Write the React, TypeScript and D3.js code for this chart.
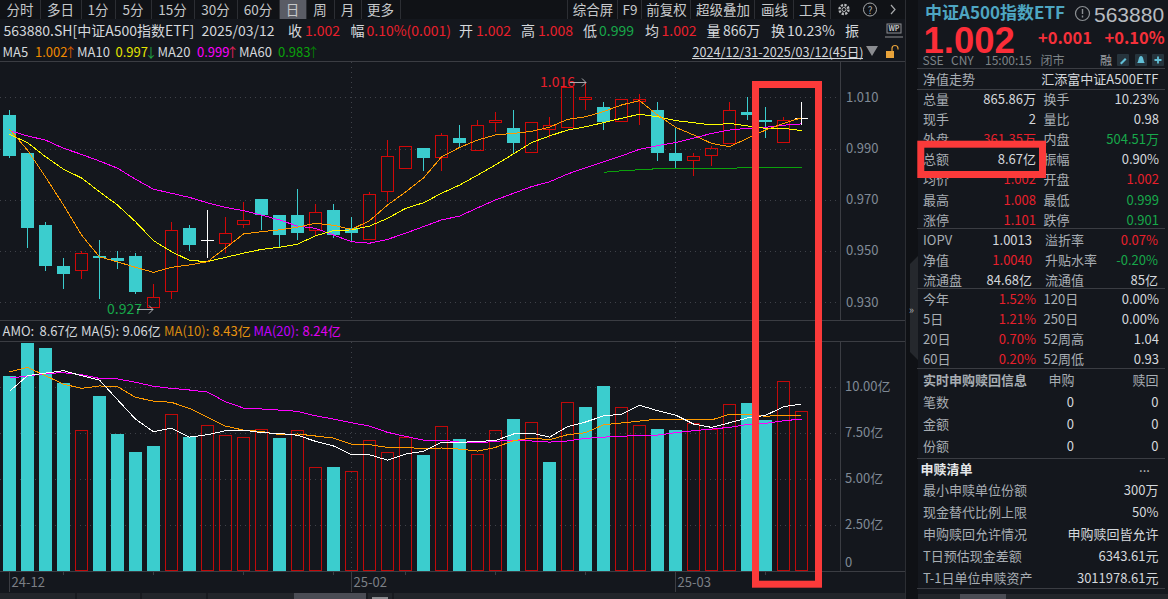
import * as d3 from 'd3';

// candles
const openPrices = [1.0031, 0.9882, 0.9601, 0.9441, 0.9424, 0.948, 0.9472, 0.948, 0.9282, 0.9342, 0.9589, 0.9541, 0.9532, 0.9604, 0.9703, 0.964, 0.964, 0.9583, 0.966, 0.9589, 0.9545, 0.9733, 0.9823, 0.9901, 0.9866, 0.9941, 0.9893, 1.0005, 0.998, 0.9885, 0.9975, 0.9983, 1.0095, 1.0062, 1.0006, 1.0084, 1.005, 0.9882, 0.9854, 0.9873, 0.9923, 1.0043, 1.0011, 0.9924, 1.002];
const closePrices = [0.9872, 0.9591, 0.9442, 0.9411, 0.9491, 0.9472, 0.9461, 0.9341, 0.9319, 0.958, 0.9524, 0.9541, 0.9569, 0.962, 0.9641, 0.9563, 0.9571, 0.9651, 0.9563, 0.9571, 0.9721, 0.987, 0.9909, 0.9864, 0.9952, 0.9923, 0.9991, 1.0011, 0.9923, 1.0002, 0.9991, 1.0139, 1.01, 1.0005, 1.0092, 1.0092, 0.9884, 0.9852, 0.987, 0.9901, 1.0049, 1.0031, 1.0004, 1.001, 1.002];
const highPrices = [1.005, 0.9882, 0.9613, 0.9472, 0.95, 0.9543, 0.95, 0.9492, 0.9371, 0.9613, 0.9601, 0.966, 0.9632, 0.9691, 0.9703, 0.964, 0.9742, 0.9683, 0.9683, 0.9632, 0.9729, 0.9933, 0.9909, 0.9901, 0.9959, 0.9992, 1.0011, 1.0043, 1.005, 1.0002, 1.0024, 1.0139, 1.016, 1.0082, 1.0092, 1.0113, 1.0082, 0.9983, 0.9881, 0.991, 1.0082, 1.01, 1.0062, 1.0023, 1.0082];
const lowPrices = [0.9864, 0.9512, 0.9423, 0.9351, 0.9391, 0.9313, 0.9429, 0.9333, 0.9282, 0.9313, 0.95, 0.9473, 0.9493, 0.9591, 0.9582, 0.9515, 0.9543, 0.9558, 0.9552, 0.9535, 0.9545, 0.9692, 0.9823, 0.9813, 0.9813, 0.9902, 0.9893, 0.9966, 0.9884, 0.9885, 0.9941, 0.9983, 1.005, 0.9972, 1.0006, 0.9992, 0.9852, 0.9823, 0.9793, 0.9832, 0.9923, 1.0011, 0.9941, 0.9924, 0.9993];

const ma5 = [0.9975, 0.9894, 0.9789, 0.9679, 0.9562, 0.9477, 0.9457, 0.9436, 0.9416, 0.9436, 0.9445, 0.9458, 0.9511, 0.9566, 0.9575, 0.9582, 0.9593, 0.9608, 0.96, 0.9584, 0.9618, 0.9679, 0.973, 0.9785, 0.9867, 0.9904, 0.9933, 0.9953, 0.9959, 0.9967, 0.9983, 1.0014, 1.0024, 1.0044, 1.007, 1.0087, 1.0031, 0.9983, 0.9953, 0.992, 0.9907, 0.994, 0.9972, 0.9998, 1.002];
const ma10 = [0.9955, 0.9923, 0.9868, 0.9819, 0.9785, 0.9731, 0.9679, 0.9614, 0.954, 0.9497, 0.9463, 0.9458, 0.9475, 0.9491, 0.9506, 0.9514, 0.9526, 0.9559, 0.9579, 0.9582, 0.9597, 0.9627, 0.9666, 0.9688, 0.9725, 0.9757, 0.9796, 0.9836, 0.9879, 0.9923, 0.9949, 0.9972, 0.9985, 1.0001, 1.0018, 1.0034, 1.0024, 1.0009, 1.0001, 0.9992, 0.9998, 0.9988, 0.9979, 0.9979, 0.997];
const ma20 = [0.997, 0.9949, 0.9933, 0.9901, 0.9877, 0.9851, 0.9823, 0.978, 0.9741, 0.9725, 0.9709, 0.9688, 0.967, 0.9657, 0.964, 0.9621, 0.9597, 0.9588, 0.9562, 0.9536, 0.953, 0.9545, 0.9569, 0.9595, 0.9621, 0.9636, 0.9668, 0.9699, 0.9725, 0.9751, 0.977, 0.98, 0.9825, 0.9848, 0.9871, 0.9897, 0.9911, 0.9923, 0.994, 0.9959, 0.9972, 0.9979, 0.9983, 0.9991, 0.9996];
const ma60Start = 33;
const ma60 = [0.9807, 0.9813, 0.9817, 0.9821, 0.9821, 0.9821, 0.9821, 0.9823, 0.9825, 0.9825, 0.9825, 0.9825];

// turnover in 亿
const amounts = [10.6, 12.39, 12.12, 10.22, 7.66, 9.51, 7.45, 6.47, 6.79, 8.51, 7.28, 7.92, 7.37, 7.26, 7.7, 7.23, 7.64, 5.63, 5.65, 5.42, 7.1, 6.45, 7.26, 6.3, 7.86, 7.17, 6.34, 7.64, 8.26, 8.08, 5.92, 9.17, 8.91, 10.05, 8.89, 7.92, 7.72, 7.66, 8.03, 7.7, 9.06, 9.13, 8.21, 10.31, 8.67];
const amountUp = [0, 0, 0, 0, 1, 0, 0, 0, 0, 1, 0, 1, 1, 1, 1, 0, 1, 1, 0, 1, 1, 1, 1, 0, 1, 0, 1, 1, 0, 1, 0, 1, 0, 0, 1, 1, 0, 0, 1, 1, 1, 0, 0, 1, 1];
const amoMa5 = [9.75, 10.6, 10.74, 10.87, 10.6, 10.36, 9.29, 8.24, 7.55, 7.75, 7.26, 7.39, 7.61, 7.64, 7.5, 7.46, 7.36, 7.03, 6.78, 6.3, 6.3, 6.01, 6.34, 6.49, 6.97, 6.97, 7.03, 7.07, 7.43, 7.48, 7.26, 7.83, 8.08, 8.41, 8.51, 8.99, 8.7, 8.46, 7.97, 7.79, 8.04, 8.3, 8.44, 8.91, 9.06];
const amoMa10 = [10.8, 11.05, 10.6, 10.14, 9.91, 10.04, 10, 9.42, 9.22, 9.15, 8.82, 8.33, 7.86, 7.64, 7.57, 7.39, 7.43, 7.32, 7.21, 6.88, 6.85, 6.7, 6.7, 6.63, 6.67, 6.61, 6.5, 6.7, 7.07, 7.21, 7.12, 7.39, 7.5, 7.93, 8.03, 8.13, 8.24, 8.24, 8.22, 8.19, 8.51, 8.5, 8.39, 8.46, 8.43];
const amoMa20 = [10.47, 10.58, 10.72, 10.76, 10.65, 10.45, 10.42, 10.24, 10.02, 9.91, 9.82, 9.71, 9.18, 8.84, 8.79, 8.73, 8.66, 8.42, 8.24, 8.04, 7.86, 7.52, 7.3, 7.1, 7.1, 6.99, 6.94, 7.03, 7.1, 7.05, 6.99, 7.05, 7.19, 7.26, 7.3, 7.37, 7.37, 7.5, 7.61, 7.7, 7.79, 7.95, 8.01, 8.15, 8.24];

const priceTicks = [1.01, 0.99, 0.97, 0.95, 0.93];
const amountTicks = [10, 7.5, 5, 2.5];
const shortTickBars = [3, 8, 13, 18, 22, 27, 32, 42];
const monthLabels = [
  { bar: 0, label: '24-12' },
  { bar: 19, label: '25-02' },
  { bar: 37, label: '25-03' },
];

const leftTabs = ['分时', '多日', '1分', '5分', '15分', '30分', '60分', '日', '周', '月', '更多'];
const leftTabEdges = [0, 40, 81, 115, 151, 194, 237, 279, 306, 334, 361, 400];
const rightTabs = ['综合屏', 'F9', '前复权', '超级叠加', '画线', '工具'];
const rightTabEdges = [568, 618, 642, 691, 755, 794, 831];

const quoteRows = [
  ['总量', '865.86万', '', '换手', '10.23%', ''],
  ['现手', '2', '', '量比', '0.98', ''],
  ['外盘', '361.35万', 'r', '内盘', '504.51万', 'g'],
  ['总额', '8.67亿', '', '振幅', '0.90%', ''],
  ['均价', '1.002', 'r', '开盘', '1.002', 'r'],
  ['最高', '1.008', 'r', '最低', '0.999', 'g'],
  ['涨停', '1.101', 'r', '跌停', '0.901', 'g'],
];
const navRows = [
  ['IOPV', '1.0013', '', '溢折率', '0.07%', 'r'],
  ['净值', '1.0040', 'r', '升贴水率', '-0.20%', 'g'],
  ['流通盘', '84.68亿', '', '流通值', '85亿', ''],
];
const returnRows = [
  ['今年', '1.52%', 'r', '120日', '0.00%', ''],
  ['5日', '1.21%', 'r', '250日', '0.00%', ''],
  ['20日', '0.70%', 'r', '52周高', '1.04', ''],
  ['60日', '0.20%', 'r', '52周低', '0.93', ''],
];
const creationRows = [
  ['笔数', '0', '0'],
  ['金额', '0', '0'],
  ['份额', '0', '0'],
];
const basketRows = [
  ['最小申赎单位份额', '300万'],
  ['现金替代比例上限', '50%'],
  ['申购赎回允许情况', '申购赎回皆允许'],
  ['T日预估现金差额', '6343.61元'],
  ['T-1日单位申赎资产', '3011978.61元'],
];

const BG = '#14171d';
const RED = '#e8202c';
const GREEN = '#17a84a';
const CYAN = '#3bcdce';
const CANDLE_RED = '#d00808';
const BAR_RED = '#c00a0a';
const LINE = '#3b3d43';
const GRID = '#3f4249';
const LABEL = '#a7adb3';
const VALUE = '#d4d8dc';
const AXIS_TEXT = '#808a96';
const FONT = '"Noto Sans CJK SC", "Noto Sans", sans-serif';

const xScale = d3.scaleLinear().domain([0, 44]).range([9.5, 801.5]);
const yPrice = d3.scaleLinear().domain([0.93, 1.01]).range([302.1, 97.3]);
const yAmount = d3.scaleLinear().domain([0, 10]).range([570.7, 386.7]);

const crisp = (v: number) => Math.round(v) + 0.5;

// central baseline sits about a pixel low with the CJK font, hence the -1
function T({ x, y, s = 13, fill = VALUE, a = 'start', w, children }: any) {
  return (
    <text x={x} y={y - 1} fontSize={s} fill={fill} textAnchor={a} fontWeight={w} dominantBaseline="central" fontFamily={FONT}>
      {children}
    </text>
  );
}

function Arrow({ fill, children }: any) {
  return <tspan dx={-3.5} fill={fill}>{children}</tspan>;
}

function Series({ values, y, color, start = 0 }: { values: number[]; y: any; color: string; start?: number }) {
  const line = d3.line<number>().x((_, i) => xScale(i + start)).y(d => y(d));
  return <path d={line(values) || ''} fill="none" stroke={color} strokeWidth={1} shapeRendering="crispEdges" />;
}

// 1px frame as a filled ring so it lands exactly on the pixels
function Frame({ cx, top, bottom, color }: { cx: number; top: number; bottom: number; color: string }) {
  const x = cx - 6.5;
  const w = 13;
  const h = Math.max(bottom - top + 1, 2);
  const d = `M${x} ${top}h${w}v${h}h${-w}zM${x + 1} ${top + 1}h${w - 2}v${Math.max(h - 2, 0)}h${2 - w}z`;
  return <path d={d} fill={color} fillRule="evenodd" shapeRendering="crispEdges" />;
}

function Candle({ i }: { i: number }) {
  const cx = xScale(i);
  const top = Math.round(yPrice(Math.max(openPrices[i], closePrices[i])));
  const bottom = Math.round(yPrice(Math.min(openPrices[i], closePrices[i])));
  const hi = Math.round(yPrice(highPrices[i]));
  const lo = Math.round(yPrice(lowPrices[i]));
  const up = closePrices[i] > openPrices[i];
  const flat = closePrices[i] === openPrices[i];
  const color = flat ? '#ffffff' : up ? CANDLE_RED : CYAN;
  return (
    <g shapeRendering="crispEdges">
      {hi < top && <line x1={cx} x2={cx} y1={hi} y2={top} stroke={color} />}
      {lo > bottom && <line x1={cx} x2={cx} y1={bottom} y2={lo} stroke={color} />}
      {flat && <line x1={cx - 6.5} x2={cx + 6.5} y1={top + 0.5} y2={top + 0.5} stroke={color} />}
      {!flat && up && <Frame cx={cx} top={top} bottom={bottom} color={color} />}
      {!flat && !up && <rect x={cx - 6.5} y={top} width={13} height={Math.max(bottom - top, 1)} fill={color} />}
    </g>
  );
}

function AmountBar({ i }: { i: number }) {
  const cx = xScale(i);
  const top = Math.round(yAmount(amounts[i]));
  if (amountUp[i]) return <Frame cx={cx} top={top} bottom={570} color={BAR_RED} />;
  return <rect x={cx - 6.5} y={top} width={13} height={571 - top} fill={CYAN} shapeRendering="crispEdges" />;
}

function ExtremeNote({ x, y, label, color }: { x: number; y: number; label: string; color: string }) {
  return (
    <g>
      <T x={x} y={y} s={14} fill={color}>{label}</T>
      <path d={`M${x + 30} ${y + 0.5}H${x + 46}M${x + 42} ${y - 3.5}L${x + 46} ${y + 0.5}L${x + 42} ${y + 4.5}`} fill="none" stroke="#b9bcc0" strokeWidth={0.9} />
    </g>
  );
}

const tone = (k: string) => (k === 'r' ? RED : k === 'g' ? GREEN : VALUE);

function QuoteRows({ rows, top, step, r1 = 1036, l2 = 1043.5, r2 = 1159 }: any) {
  return rows.map((r: string[], i: number) => (
    <g key={r[0]}>
      <T x={923} y={top + step * i} fill={LABEL}>{r[0]}</T>
      <T x={r1} y={top + step * i} fill={tone(r[2])} a="end">{r[1]}</T>
      <T x={l2} y={top + step * i} fill={LABEL}>{r[3]}</T>
      <T x={r2} y={top + step * i} fill={tone(r[5])} a="end">{r[4]}</T>
    </g>
  ));
}

function Hr({ y, x1 = 917, x2 = 1165 }: { y: number; x1?: number; x2?: number }) {
  return <line x1={x1} x2={x2} y1={y + 0.5} y2={y + 0.5} stroke={LINE} shapeRendering="crispEdges" />;
}

export default function App() {
  const bars = d3.range(amounts.length);
  return (
    <div style={{ position: 'fixed', left: 0, top: 0, width: 1168, height: 599, overflow: 'hidden' }}>
      <svg width={1168} height={599} style={{ display: 'block' }}>
        <rect width={1168} height={599} fill={BG} />
        <rect width={905} height={19} fill="#101216" />

        {/* toolbar */}
        <rect x={279} y={0} width={27} height={19} fill="#5a5c65" />
        {leftTabs.map((t, i) => (
          <T key={t} x={(leftTabEdges[i] + leftTabEdges[i + 1]) / 2} y={9.5} s={13.5} fill="#c6c8ca" a="middle">{t}</T>
        ))}
        {leftTabEdges.slice(1).map(x => <line key={x} x1={x + 0.5} x2={x + 0.5} y1={0} y2={19} stroke="#2c2e33" />)}
        {rightTabs.map((t, i) => (
          <T key={t} x={(rightTabEdges[i] + rightTabEdges[i + 1]) / 2} y={9.5} s={13.5} fill="#c6c8ca" a="middle">{t}</T>
        ))}
        {rightTabEdges.map(x => <line key={x} x1={x - 0.5} x2={x - 0.5} y1={0} y2={19} stroke="#2c2e33" />)}
        <circle cx={844} cy={9.5} r={4.5} fill="none" stroke="#b8babc" strokeWidth={2.4} strokeDasharray="2.2 1.3" />
        <circle cx={844} cy={9.5} r={2} fill="none" stroke="#b8babc" />
        <circle cx={870} cy={9.5} r={6.5} fill="none" stroke="#a8aaac" />
        <T x={870} y={10} s={10} fill="#a8aaac" a="middle">?</T>
        <path d="M891 5l4 4.5l-4 4.5" fill="none" stroke="#a8aaac" strokeWidth={1.2} />

        {/* quote line */}
        <T x={3.5} y={31} s={14}>563880.SH[中证A500指数ETF]</T>
        <T x={201.5} y={31} s={14}>2025/03/12</T>
        <T x={288} y={31} s={14}>收</T>
        <T x={305} y={31} s={14} fill={RED}>1.002</T>
        <T x={350.5} y={31} s={14}>幅</T>
        <T x={366.5} y={31} s={14} fill={RED}>0.10%(0.001)</T>
        <T x={459} y={31} s={14}>开</T>
        <T x={476} y={31} s={14} fill={RED}>1.002</T>
        <T x={521} y={31} s={14}>高</T>
        <T x={538} y={31} s={14} fill={RED}>1.008</T>
        <T x={583} y={31} s={14}>低</T>
        <T x={599} y={31} s={14} fill={GREEN}>0.999</T>
        <T x={645} y={31} s={14}>均</T>
        <T x={661.5} y={31} s={14} fill={RED}>1.002</T>
        <T x={706.5} y={31} s={14}>量</T>
        <T x={723} y={31} s={14}>866万</T>
        <T x={771} y={31} s={14}>换</T>
        <T x={787} y={31} s={14}>10.23%</T>
        <T x={845} y={31} s={14}>振</T>
        <rect x={887} y={24} width={14} height={9} fill="none" stroke="#8e9094" />
        <T x={894} y={29} s={7} fill="#c0c2c4" a="middle" w={700}>WP</T>
        <path d="M885 37h18" stroke="#8e9094" />

        {/* moving average line */}
        <T x={2.5} y={52}>MA5</T>
        <T x={35} y={52} fill="#f08a00">1.002<Arrow fill="#d05a00">↑</Arrow></T>
        <T x={77} y={52}>MA10</T>
        <T x={115.5} y={52} fill="#e6e600">0.997<Arrow fill="#20a040">↓</Arrow></T>
        <T x={157.5} y={52}>MA20</T>
        <T x={197} y={52} fill="#ff00ff">0.999<Arrow fill="#e0205a">↑</Arrow></T>
        <T x={239} y={52}>MA60</T>
        <T x={278} y={52} fill="#0ba20b">0.983<Arrow fill="#067a06">↑</Arrow></T>
        <T x={692.5} y={52} s={12.6}>2024/12/31-2025/03/12(45日)</T>
        <line x1={692} x2={863} y1={58.5} y2={58.5} stroke={VALUE} />
        <path d="M866 46h12l-6 10z" fill="#8a8c90" />
        <rect x={886} y={51} width={8} height={7} fill="#e8a33a" />
        <path d="M892 51v-2.5a3 3 0 0 1 6 0v1" fill="none" stroke="#e8a33a" strokeWidth={1.2} />

        {/* panel frames */}
        <g stroke={LINE} shapeRendering="crispEdges">
          <line x1={0} x2={905} y1={61.5} y2={61.5} />
          <line x1={0} x2={905} y1={320.5} y2={320.5} />
          <line x1={0} x2={905} y1={341.5} y2={341.5} />
          <line x1={0} x2={905} y1={571.5} y2={571.5} />
          <line x1={840.5} x2={840.5} y1={61} y2={320} />
          <line x1={840.5} x2={840.5} y1={342} y2={572} />
          <line x1={905.5} x2={905.5} y1={0} y2={599} stroke="#2c2e33" />
        </g>

        {/* grid */}
        <g stroke={GRID} strokeDasharray="1 4" shapeRendering="crispEdges">
          {priceTicks.map(t => <line key={t} x1={0} x2={840} y1={crisp(yPrice(t))} y2={crisp(yPrice(t))} />)}
          {amountTicks.map(t => <line key={t} x1={0} x2={840} y1={crisp(yAmount(t))} y2={crisp(yAmount(t))} />)}
          {monthLabels.slice(1).map(m => (
            <g key={m.label}>
              <line x1={xScale(m.bar)} x2={xScale(m.bar)} y1={62} y2={320} />
              <line x1={xScale(m.bar)} x2={xScale(m.bar)} y1={342} y2={571} />
            </g>
          ))}
        </g>

        {/* price panel */}
        {bars.map(i => <Candle key={i} i={i} />)}
        <Series values={ma20} y={yPrice} color="#ff00ff" />
        <Series values={ma10} y={yPrice} color="#ffff00" />
        <Series values={ma5} y={yPrice} color="#ff9a00" />
        <Series values={ma60} y={yPrice} color="#0ba20b" start={ma60Start} />
        <ExtremeNote x={540} y={82} label="1.016" color={RED} />
        <ExtremeNote x={107} y={309} label="0.927" color={GREEN} />
        {priceTicks.map(t => (
          <T key={t} x={846} y={yPrice(t)} fill={AXIS_TEXT}>{t.toFixed(3)}</T>
        ))}

        {/* turnover panel */}
        <T x={2.5} y={331}>AMO:</T>
        <T x={39.5} y={331}>8.67亿</T>
        <T x={81} y={331}>MA(5):</T>
        <T x={122.5} y={331}>9.06亿</T>
        <T x={164} y={331} fill="#d88a10">MA(10):</T>
        <T x={212.5} y={331} fill="#e89410">8.43亿</T>
        <T x={253.5} y={331} fill="#c000ff">MA(20):</T>
        <T x={302.5} y={331} fill="#e000f0">8.24亿</T>
        {bars.map(i => <AmountBar key={i} i={i} />)}
        <Series values={amoMa20} y={yAmount} color="#ff00ff" />
        <Series values={amoMa10} y={yAmount} color="#ff9a00" />
        <Series values={amoMa5} y={yAmount} color="#ffffff" />
        {amountTicks.map(t => (
          <T key={t} x={845} y={yAmount(t)} fill={AXIS_TEXT}>{t.toFixed(2)}亿</T>
        ))}
        <T x={845} y={562} fill={AXIS_TEXT}>0</T>

        {/* date axis */}
        <g stroke={LINE} shapeRendering="crispEdges">
          {shortTickBars.map(b => <line key={b} x1={xScale(b)} x2={xScale(b)} y1={572} y2={575} />)}
          {monthLabels.map(m => <line key={m.label} x1={xScale(m.bar)} x2={xScale(m.bar)} y1={572} y2={592} />)}
        </g>
        {monthLabels.map(m => (
          <T key={m.label} x={xScale(m.bar) + 2} y={582} fill="#7c8086">{m.label}</T>
        ))}

        {/* tab strip at the bottom */}
        <rect x={0} y={593} width={905} height={6} fill="#22252a" />
        <rect x={294} y={593} width={72} height={6} fill="#4a4c54" />
        <rect x={372} y={597} width={16} height={2} fill="#8a8c90" />
        {[76, 141, 207, 367, 393].map(x => <line key={x} x1={x} x2={x} y1={593} y2={599} stroke="#0e1014" />)}

        {/* side tab */}
        <rect x={906} y={0} width={12} height={599} fill="#0f1115" />
        <path d="M918 256L910 264V352L918 360Z" fill="#25282d" />
        <T x={911.5} y={310} s={11} fill="#a6a8ac" a="middle">»</T>

        {/* right panel head */}
        <T x={925} y={12} s={17} fill="#4ea6c2" w={700}>中证A500指数ETF</T>
        <circle cx={1082.5} cy={13.5} r={7} fill="none" stroke="#8c9094" strokeWidth={1.2} />
        <path d="M1082.5 9v5M1082.5 15.5v2" stroke="#8c9094" strokeWidth={1.4} />
        <text x={1094} y={21.5} fontSize={21} fill="#b8bcc0" fontFamily='"Liberation Sans", sans-serif'>563880</text>
        <text x={923.5} y={52.5} fontSize={36.5} fontWeight={700} fill="#fc2d38" fontFamily='"Liberation Sans", sans-serif'>1.002</text>
        <T x={1038} y={38} s={16.5} fill="#f5303a" w={700}>+0.001</T>
        <T x={1104.5} y={38} s={16.5} fill="#f5303a" w={700}>+0.10%</T>
        <T x={922.5} y={60.5} s={12} fill="#7e8488">SSE</T>
        <T x={951} y={60.5} s={12} fill="#7e8488">CNY</T>
        <T x={985} y={60.5} s={12} fill="#7e8488">15:00:15</T>
        <T x={1040.5} y={60.5} s={12} fill="#7e8488">闭市</T>
        <T x={1100} y={60.5} s={12} fill="#a0a4a8">融</T>
        {[1123, 1141, 1158].map(x => <rect key={x} x={x - 6} y={54} width={12} height={12} rx={1} fill="#26343d" />)}
        <path d="M1120 63l5-5l1.5 1.5l-5 5z" fill="#62c0d8" />
        <path d="M1137 63c2 -1 1 -7 4 -7s2 6 4 7z" fill="#62c0d8" />
        <path d="M1158 56.5v7M1154.5 60h7" stroke="#62c0d8" strokeWidth={1.8} />
        <Hr y={68} />
        <T x={923} y={79.5} fill={LABEL}>净值走势</T>
        <T x={1158.5} y={79.5} a="end" fill={VALUE}>汇添富中证A500ETF</T>
        <Hr y={89} />

        <QuoteRows rows={quoteRows} top={99.5} step={20.1} />
        <Hr y={228} />
        <QuoteRows rows={navRows} top={240} step={20} r1={1032} l2={1045} r2={1158} />
        <Hr y={288} />
        <QuoteRows rows={returnRows} top={299} step={20} />
        <Hr y={368} />

        <T x={923} y={380} fill={LABEL} w={700}>实时申购赎回信息</T>
        <T x={1074.5} y={380} fill={LABEL} a="end">申购</T>
        <T x={1158.5} y={380} fill={LABEL} a="end">赎回</T>
        {creationRows.map((r, i) => (
          <g key={r[0]}>
            <T x={923} y={402.3 + 22 * i} fill={LABEL}>{r[0]}</T>
            <T x={1074} y={402.3 + 22 * i} a="end">{r[1]}</T>
            <T x={1158.5} y={402.3 + 22 * i} a="end">{r[2]}</T>
          </g>
        ))}
        <Hr y={458} />
        <T x={920.5} y={469} fill="#e6e8ea" w={700}>申赎清单</T>
        <T x={1144.5} y={467} fill="#c0c2c4" a="middle">...</T>
        {basketRows.map((r, i) => (
          <g key={r[0]}>
            <T x={923} y={490 + 22 * i} fill={LABEL}>{r[0]}</T>
            <T x={1158.5} y={490 + 22 * i} a="end">{r[1]}</T>
          </g>
        ))}
        <Hr y={588} />
        <rect x={918} y={594} width={250} height={5} fill="#22252a" />
        <rect x={960} y={594} width={46} height={5} fill="#4a4c54" />

        {/* red marker boxes drawn over the screen */}
        <rect x={920.8} y={144.2} width={121.7} height={30.3} fill="none" stroke="#fb3a3a" strokeWidth={7} />
        <rect x={755.5} y={84.5} width={63} height={499.7} fill="none" stroke="#fb3a3a" strokeWidth={7} />
      </svg>
    </div>
  );
}
